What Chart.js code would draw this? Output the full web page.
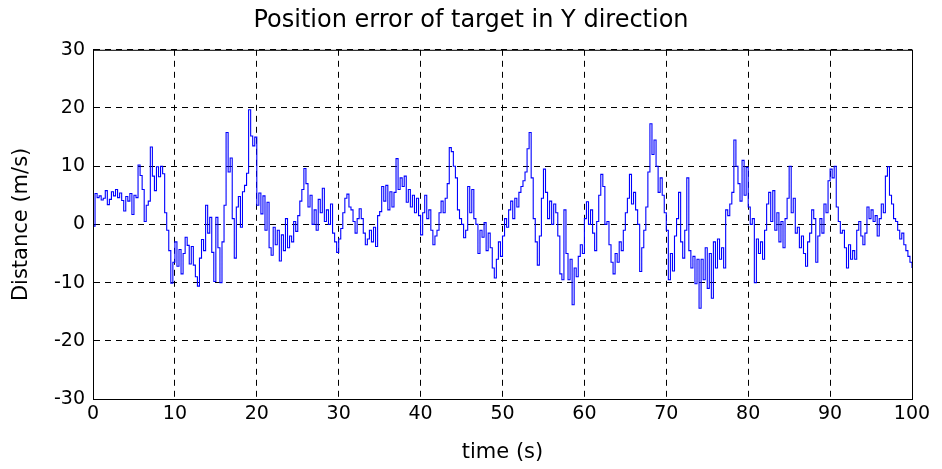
<!DOCTYPE html>
<html>
<head>
<meta charset="utf-8">
<script src="https://cdn.jsdelivr.net/npm/chart.js@4/dist/chart.umd.min.js"></script>
<style>
  html, body { margin: 0; padding: 0; background: #fff; }
  #errChart { display: block; }
</style>
</head>
<body>
<canvas id="errChart" width="942" height="469"></canvas>
<script>
// sample spacing of the error record (s)
const sampleStep = 0.25;

// Y position error (m), one value every 0.25 s, rows of 5 s
const errorY = [
  -0.3, 5.3, 4.6, 4.9, 4.2, 4.5, 5.8, 3.4, 4.3, 5.6, 4.9, 6.0, 4.6, 5.4, 4.1, 2.3, 4.8, 4.0, 5.3, 1.7,
  5.0, 4.6, 10.2, 8.4, 6.0, 0.5, 3.3, 4.0, 13.3, 8.3, 5.8, 9.9, 8.2, 10.0, 8.7, 2.0, -1.0, -4.5, -10.1, -6.5,
  -3.0, -7.2, -4.3, -8.5, -5.0, -2.2, -3.6, -6.8, -3.8, -7.0, -9.0, -10.6, -5.8, -2.6, -4.5, 3.3, -1.5, 1.2, -4.8, -9.8,
  1.2, -4.0, -10.0, -3.0, 3.3, 15.8, 9.0, 11.4, 1.0, -5.8, 3.0, 4.8, -0.5, 5.6, 6.7, 8.8, 19.7, 15.2, 13.5, 15.0,
  3.3, 5.4, 1.8, 4.9, -1.0, 3.8, -4.0, -5.3, -0.5, -3.5, -1.0, -6.3, -1.8, -4.5, 1.0, -4.0, -2.0, -3.0, 0.5, -1.2,
  1.5, 4.0, 6.0, 9.6, 7.0, 3.0, 5.0, 0.0, 2.5, -1.0, 4.3, 2.0, 6.2, 0.5, 2.5, 0.0, 3.5, -1.5, -3.0, -4.8,
  -2.5, -0.7, 2.0, 4.5, 5.2, 3.0, 2.5, 0.5, -1.5, 1.0, 2.7, 1.0, -1.5, -3.5, -2.5, -1.0, -3.0, -0.5, -3.8, 1.5,
  2.2, 6.5, 4.0, 6.7, 2.5, 5.6, 3.0, 5.5, 11.3, 6.0, 8.0, 6.5, 8.3, 3.8, 6.0, 3.0, 5.0, 2.0, 4.5, 1.5,
  -1.8, 2.0, 5.0, 1.0, 2.5, -1.0, -3.5, -2.0, -1.0, 2.0, 4.0, 2.0, 4.5, 7.0, 13.2, 12.5, 10.0, 8.0, 2.5, 1.0,
  0.0, -2.3, -1.0, 6.5, 2.0, 6.0, 1.0, 0.0, -5.0, -1.0, -2.2, 0.3, -4.5, -1.5, -4.0, -7.5, -9.2, -6.0, -3.0, -5.5,
  -2.0, 1.0, -0.5, 2.5, 4.0, 1.0, 4.5, 3.0, 5.5, 6.5, 7.5, 9.0, 13.0, 15.8, 8.0, 1.0, -3.0, -7.0, -2.0, 4.5,
  9.5, 5.5, 1.0, 4.0, 0.0, 3.5, 2.0, -2.0, -8.5, -9.5, 2.5, -5.0, -9.5, -6.0, -13.8, -7.5, -9.0, -5.5, -3.5, -5.0,
  1.0, 3.9, 0.0, 2.5, -1.5, -4.5, 0.5, 5.0, 8.6, 6.5, 0.0, 0.5, -3.5, -6.5, -8.5, -5.0, -6.5, -3.0, -4.5, -1.0,
  2.0, 4.5, 8.6, 3.5, 5.5, 2.5, 0.0, -8.1, -4.0, -1.0, 3.0, 9.0, 17.3, 12.0, 14.5, 10.0, 5.5, 8.0, 5.0, 2.0,
  -1.0, -9.5, -5.0, -8.0, -2.0, 1.0, 5.5, -3.0, -5.8, -1.0, 8.0, -4.5, -7.5, -5.5, -10.2, -6.0, -14.4, -6.0, -9.5, -4.0,
  -11.0, -5.0, -12.7, -3.0, -7.5, -2.5, -6.0, -4.0, -7.5, 2.5, 1.5, 3.5, 5.5, 14.5, 10.0, 7.0, 4.0, 11.0, 5.0, 9.8,
  3.0, 0.0, 1.0, -10.0, -2.5, -5.0, -3.0, -6.0, -1.0, 3.5, 5.5, 0.5, 5.8, -1.0, 2.0, -3.0, 0.5, -4.0, 1.0, 4.5,
  10.0, 2.0, 4.5, -1.5, -0.5, -4.0, -2.0, -5.0, -7.2, -3.0, -1.5, 2.5, 1.0, -6.5, -2.0, 1.0, -1.5, 3.5, 2.0, 7.5,
  9.5, 8.0, 10.0, 3.0, 0.5, -1.5, -1.0, -4.0, -7.5, -3.5, -6.0, -4.5, -6.0, -1.0, 0.5, -2.0, -3.5, -1.5, 3.0, 1.0,
  2.5, 0.5, 1.5, -2.0, 1.0, 3.5, 2.0, 8.3, 9.9, 5.0, 3.5, 1.0, 0.5, -1.0, -2.5, -1.5, -3.5, -4.5, -5.5, -6.5,
  -7.5
];

const xTicks = [0, 10, 20, 30, 40, 50, 60, 70, 80, 90, 100];
const yTicks = [-30, -20, -10, 0, 10, 20, 30];

const points = errorY.map((v, i) => ({ x: i * sampleStep, y: v }));

const fontFamily = '"DejaVu Sans", Arial, sans-serif';

// MATLAB style box round the plot area
const boxPlugin = {
    id: 'axesBox',
    afterDraw(chart) {
        const { ctx, chartArea } = chart;
        ctx.save();
        ctx.strokeStyle = '#000';
        ctx.lineWidth = 1;
        ctx.strokeRect(chartArea.left + 0.5, chartArea.top + 0.5,
            chartArea.right - chartArea.left, chartArea.bottom - chartArea.top);
        ctx.restore();
    }
};

new Chart(document.getElementById('errChart').getContext('2d'), {
    type: 'line',
    data: {
        datasets: [{
            label: 'Y error',
            data: points,
            borderColor: '#0000ff',
            borderWidth: 1.1,
            pointRadius: 0,
            stepped: true,
            fill: false
        }]
    },
    options: {
        responsive: false,
        animation: false,
        layout: { padding: 0 },
        plugins: {
            legend: { display: false },
            tooltip: { enabled: false },
            title: {
                display: true,
                text: 'Position error of target in Y direction',
                color: '#000',
                font: { family: fontFamily, size: 24, weight: 'normal' },
                padding: { top: 6, bottom: 15 }
            }
        },
        scales: {
            x: {
                type: 'linear',
                min: 0,
                max: 100,
                afterBuildTicks: axis => { axis.ticks = xTicks.map(v => ({ value: v })); },
                afterFit: axis => { axis.height = 70; },
                ticks: { color: '#000', font: { family: fontFamily, size: 19 }, padding: 4, maxRotation: 0 },
                grid: { color: '#000', lineWidth: 1, tickLength: 0 },
                border: { color: '#000', dash: [6, 5] },
                title: {
                    display: true,
                    text: 'time (s)',
                    color: '#000',
                    font: { family: fontFamily, size: 21 },
                    padding: { top: 4, bottom: 4 }
                }
            },
            y: {
                min: -30,
                max: 30,
                afterBuildTicks: axis => { axis.ticks = yTicks.map(v => ({ value: v })); },
                afterFit: axis => { axis.width = 93; },
                ticks: { color: '#000', font: { family: fontFamily, size: 19 }, padding: 8 },
                grid: { color: '#000', lineWidth: 1, tickLength: 0 },
                border: { color: '#000', dash: [6, 5] },
                title: {
                    display: true,
                    text: 'Distance (m/s)',
                    color: '#000',
                    font: { family: fontFamily, size: 21 },
                    padding: { top: 9, bottom: 9 }
                }
            },
            // empty right axis, only keeps the margin on the right
            yRight: {
                position: 'right',
                min: -30,
                max: 30,
                afterFit: axis => { axis.width = 30; },
                ticks: { display: false },
                grid: { display: false },
                border: { display: false }
            }
        }
    },
    plugins: [boxPlugin]
});
</script>
</body>
</html>
